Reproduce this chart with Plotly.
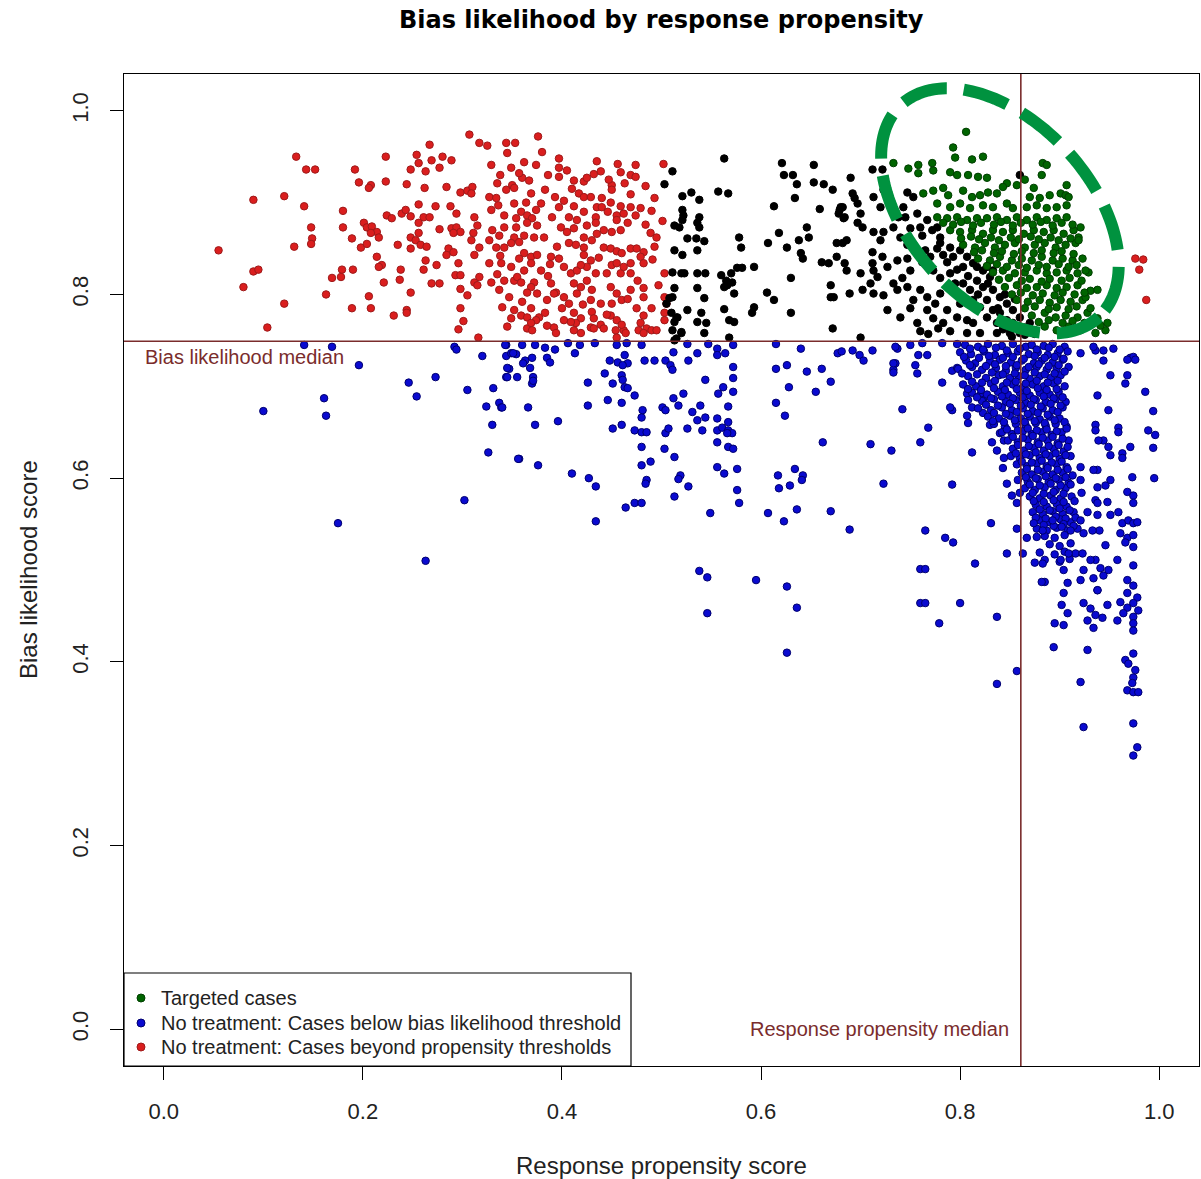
import math
import plotly.graph_objects as go

# ---------------- data ----------------
chart_title = "Bias likelihood by response propensity"
x_title = "Response propensity score"
y_title = "Bias likelihood score"
tick_values = [0.0, 0.2, 0.4, 0.6, 0.8, 1.0]
tick_labels = ["0.0", "0.2", "0.4", "0.6", "0.8", "1.0"]
propensity_median = 0.861
bias_median = 0.749
legend_names = ["Targeted cases",
                "No treatment: Cases below bias likelihood threshold",
                "No treatment: Cases beyond propensity thresholds"]

red_points = [
    (.307, .974), (.317, .965), (.267, .963), (.133, .950), (.223, .950), (.254, .952), (.280, .950), (.289, .946),
    (.269, .946), (.256, .943), (.143, .936), (.152, .936), (.192, .936), (.248, .936), (.263, .934), (.277, .938),
    (.196, .922), (.208, .919), (.206, .916), (.223, .923), (.244, .920), (.262, .916), (.284, .917), (.298, .911),
    (.305, .913), (.310, .917), (.309, .910), (.090, .903), (.121, .907), (.141, .896), (.180, .891), (.256, .898),
    (.273, .896), (.288, .896), (.294, .888), (.312, .884), (.315, .875), (.224, .886), (.229, .883), (.239, .888),
    (.243, .892), (.248, .885), (.261, .884), (.267, .884), (.201, .878), (.204, .873), (.209, .874), (.214, .868),
    (.208, .867), (.180, .873), (.148, .873), (.256, .878), (.277, .871), (.289, .872), (.294, .873), (.298, .868),
    (.291, .867), (.311, .867), (.149, .861), (.148, .855), (.189, .861), (.216, .862), (.248, .862), (.253, .859),
    (.256, .867), (.258, .854), (.264, .852), (.131, .852), (.198, .851), (.204, .855), (.235, .854), (.248, .850),
    (.286, .850), (.291, .846), (.317, .851), (.309, .859), (.055, .848), (.214, .841), (.219, .832), (.216, .830),
    (.263, .837), (.274, .832), (.284, .843), (.296, .834), (.312, .843), (.090, .825), (.095, .827), (.169, .818),
    (.178, .819), (.179, .827), (.190, .827), (.238, .827), (.261, .827), (.237, .816), (.221, .813), (.269, .812),
    (.277, .812), (.293, .821), (.298, .821), (.312, .813), (.315, .810), (.317, .819), (.080, .808), (.163, .800),
    (.206, .798), (.248, .802), (.298, .806), (.305, .799), (.121, .790), (.189, .785), (.208, .785), (.231, .777),
    (.244, .783), (.244, .780), (.298, .785), (.301, .771), (.296, .762), (.104, .764), (.316, .753),
    (.376, .972), (.325, .962), (.344, .965), (.353, .965), (.345, .954), (.380, .955), (.397, .948), (.362, .944),
    (.374, .941), (.329, .941), (.349, .938), (.435, .945), (.456, .942), (.474, .941), (.459, .933), (.469, .930),
    (.474, .928), (.502, .942), (.397, .938), (.397, .928), (.439, .934), (.432, .931), (.360, .927), (.367, .924),
    (.412, .924), (.422, .923), (.425, .927), (.335, .921), (.350, .919), (.352, .916), (.450, .919), (.450, .914),
    (.383, .914), (.369, .910), (.410, .915), (.417, .910), (.422, .906), (.429, .906), (.469, .909), (.327, .906),
    (.334, .905), (.344, .914), (.393, .906), (.440, .905), (.449, .900), (.364, .900), (.379, .899), (.397, .895),
    (.412, .896), (.459, .896), (.469, .895), (.479, .894), (.422, .890), (.435, .895), (.440, .895), (.490, .891),
    (.359, .890), (.365, .886), (.370, .883), (.354, .883), (.342, .886), (.329, .892), (.390, .884), (.407, .884),
    (.415, .881), (.434, .884), (.434, .878), (.425, .875), (.455, .886), (.462, .888), (.455, .881), (.474, .886),
    (.501, .880), (.342, .873), (.354, .873), (.365, .878), (.375, .875), (.330, .870), (.399, .873), (.405, .868),
    (.412, .872), (.442, .870), (.450, .868), (.459, .870), (.489, .867), (.495, .862), (.352, .862), (.362, .864),
    (.372, .862), (.382, .862), (.327, .859), (.334, .851), (.342, .851), (.349, .856), (.422, .862), (.430, .859),
    (.407, .856), (.414, .854), (.422, .851), (.442, .851), (.449, .850), (.455, .847), (.460, .845), (.469, .850),
    (.475, .850), (.482, .846), (.479, .841), (.362, .845), (.369, .841), (.375, .843), (.357, .839), (.389, .841),
    (.397, .839), (.422, .843), (.429, .837), (.425, .830), (.339, .834), (.349, .830), (.327, .834), (.450, .832),
    (.455, .834), (.469, .834), (.482, .834), (.369, .834), (.379, .826), (.362, .826), (.402, .830), (.409, .823),
    (.415, .826), (.419, .832), (.434, .823), (.445, .823), (.469, .823), (.459, .823), (.503, .823), (.342, .815),
    (.352, .815), (.355, .819), (.359, .813), (.372, .813), (.369, .808), (.365, .802), (.375, .801), (.329, .813),
    (.389, .812), (.394, .802), (.412, .812), (.419, .808), (.415, .801), (.430, .805), (.449, .808), (.455, .801),
    (.460, .794), (.450, .790), (.469, .805), (.482, .807), (.337, .805), (.392, .801), (.385, .794), (.402, .797),
    (.407, .790), (.429, .794), (.439, .790), (.482, .797), (.503, .797), (.505, .790), (.340, .786), (.352, .783),
    (.359, .777), (.369, .785), (.377, .775), (.374, .772), (.400, .785), (.412, .780), (.419, .774), (.414, .769),
    (.430, .781), (.432, .774), (.439, .767), (.429, .764), (.449, .777), (.455, .772), (.454, .761), (.462, .761),
    (.475, .785), (.482, .777), (.479, .769), (.477, .761), (.485, .763), (.490, .761), (.495, .761), (.482, .758),
    (.503, .780), (.503, .772), (.349, .774), (.365, .775), (.365, .763), (.369, .769), (.370, .761), (.392, .764),
    (.394, .758), (.402, .772), (.409, .770), (.412, .761), (.419, .758), (.432, .763), (.442, .763), (.455, .753),
    (.464, .758),
    (.338, .930), (.357, .932), (.386, .930), (.405, .935), (.447, .925), (.463, .921), (.484, .918), (.493, .905),
    (.336, .897), (.352, .899), (.374, .892), (.402, .902), (.446, .890), (.466, .878), (.484, .876), (.337, .864),
    (.357, .857), (.395, .852), (.435, .866), (.493, .852), (.338, .842), (.388, .833), (.437, .840), (.462, .830),
    (.491, .838), (.335, .822), (.386, .820), (.425, .815), (.476, .815), (.497, .810), (.347, .797), (.360, .792),
    (.421, .789), (.466, .795), (.490, .785), (.345, .765), (.383, .780), (.445, .778), (.460, .767), (.385, .766),
    (.976, .839), (.984, .838), (.980, .827), (.987, .794),
]

black_points = [
    (.511, .934), (.563, .948), (.503, .920), (.521, .907), (.530, .911), (.538, .903), (.557, .912), (.567, .910),
    (.621, .943), (.653, .941), (.623, .930), (.632, .930), (.636, .920), (.634, .905), (.653, .922), (.663, .920),
    (.672, .914), (.613, .896), (.659, .893), (.521, .892), (.522, .886), (.521, .881), (.538, .884), (.536, .878),
    (.538, .873), (.513, .875), (.518, .873), (.680, .895), (.678, .888), (.683, .883), (.526, .861), (.535, .861),
    (.543, .858), (.578, .862), (.580, .851), (.618, .867), (.607, .856), (.626, .851), (.638, .859), (.646, .873),
    (.648, .862), (.640, .845), (.642, .839), (.676, .856), (.513, .848), (.521, .843), (.536, .848), (.661, .835),
    (.668, .834), (.676, .841), (.511, .824), (.520, .823), (.523, .823), (.536, .823), (.544, .823), (.560, .821),
    (.565, .815), (.570, .823), (.576, .829), (.581, .829), (.563, .808), (.566, .810), (.571, .813), (.593, .830),
    (.630, .818), (.670, .810), (.513, .807), (.511, .797), (.508, .796), (.536, .807), (.543, .796), (.573, .801),
    (.606, .802), (.613, .794), (.670, .797), (.673, .797), (.593, .786), (.591, .780), (.630, .780), (.526, .783),
    (.516, .775), (.513, .770), (.540, .780), (.536, .770), (.545, .769), (.563, .784), (.568, .772), (.573, .770),
    (.520, .759), (.515, .752), (.543, .758), (.568, .753), (.672, .763),
    (.505, .790), (.510, .780), (.515, .775), (.511, .761), (.520, .758), (.513, .750),
    (.712, .936), (.722, .936), (.690, .927), (.692, .910), (.694, .905), (.697, .899), (.713, .906), (.723, .914),
    (.727, .905), (.720, .895), (.682, .895), (.684, .884), (.679, .892), (.700, .888), (.702, .873), (.697, .878),
    (.733, .892), (.743, .895), (.738, .884), (.745, .884), (.747, .911), (.753, .906), (.713, .868), (.723, .868),
    (.720, .859), (.682, .856), (.686, .859), (.757, .888), (.760, .873), (.750, .872), (.762, .864), (.733, .873),
    (.740, .862), (.747, .854), (.767, .881), (.772, .870), (.777, .873), (.780, .862), (.712, .846), (.712, .834),
    (.722, .841), (.727, .830), (.684, .834), (.686, .826), (.700, .823), (.713, .826), (.717, .819), (.710, .812),
    (.737, .837), (.747, .839), (.750, .826), (.742, .818), (.757, .848), (.765, .848), (.762, .835), (.770, .841),
    (.780, .856), (.790, .851), (.783, .843), (.793, .841), (.800, .848), (.807, .841), (.803, .830), (.813, .834),
    (.773, .826), (.780, .818), (.790, .823), (.795, .812), (.689, .801), (.702, .805), (.713, .801), (.723, .799),
    (.733, .812), (.737, .805), (.747, .808), (.753, .794), (.760, .805), (.767, .797), (.775, .790), (.780, .801),
    (.727, .783), (.740, .775), (.750, .785), (.757, .769), (.767, .783), (.773, .774), (.783, .769), (.787, .783),
    (.803, .812), (.810, .805), (.817, .815), (.823, .808), (.813, .794), (.820, .786), (.827, .794), (.833, .783),
    (.800, .790), (.797, .775), (.807, .772), (.813, .769), (.827, .775), (.837, .769), (.840, .780), (.847, .772),
    (.823, .826), (.830, .819), (.833, .805), (.840, .797), (.847, .790), (.853, .783), (.853, .769), (.860, .775),
    (.865, .764), (.870, .769), (.700, .753), (.807, .758), (.820, .758), (.837, .758), (.850, .758), (.860, .758),
    (.827, .830), (.833, .826), (.817, .830), (.860, .930),
    (.777, .850), (.787, .835), (.797, .827), (.808, .820), (.818, .800), (.828, .812), (.838, .785), (.845, .800),
    (.855, .795), (.843, .762), (.852, .754), (.865, .756), (.875, .757), (.790, .760), (.778, .763), (.768, .757),
    (.760, .760),
]

green_points = [
    (.806, .977), (.793, .960), (.795, .949), (.812, .947), (.823, .950), (.733, .943), (.748, .937), (.758, .941),
    (.758, .932), (.772, .943), (.773, .935), (.790, .933), (.797, .930), (.808, .930), (.818, .928), (.827, .927),
    (.883, .943), (.887, .941), (.882, .930), (.857, .919), (.847, .921), (.907, .919), (.763, .910), (.773, .913),
    (.783, .916), (.788, .908), (.803, .913), (.812, .906), (.820, .908), (.828, .911), (.837, .910), (.843, .917),
    (.870, .906), (.880, .905), (.890, .908), (.901, .910), (.906, .908), (.909, .906), (.777, .899), (.790, .895),
    (.800, .899), (.810, .894), (.823, .897), (.833, .895), (.847, .899), (.853, .894), (.867, .895), (.877, .897),
    (.887, .894), (.897, .895), (.907, .897), (.777, .884), (.787, .883), (.797, .884), (.807, .881), (.817, .883),
    (.827, .883), (.837, .884), (.847, .881), (.857, .884), (.867, .881), (.877, .884), (.887, .881), (.897, .883),
    (.907, .884), (.865, .925), (.874, .916),
    (.790, .870), (.800, .868), (.812, .870), (.823, .866), (.833, .870), (.843, .868), (.853, .870), (.864, .866),
    (.874, .870), (.884, .868), (.894, .870), (.904, .866), (.914, .870),
    (.803, .854), (.815, .851), (.825, .856), (.835, .851), (.845, .854), (.855, .856), (.865, .851), (.875, .854),
    (.885, .856), (.896, .851), (.906, .854), (.916, .856), (.921, .873), (.919, .862),
    (.818, .839), (.830, .837), (.840, .841), (.852, .837), (.862, .839), (.872, .837), (.882, .841), (.893, .837),
    (.903, .839), (.913, .837), (.923, .839),
    (.833, .824), (.843, .826), (.855, .823), (.865, .824), (.877, .826), (.887, .823), (.897, .824), (.907, .826),
    (.918, .823), (.929, .824),
    (.845, .808), (.857, .810), (.867, .807), (.877, .808), (.887, .810), (.897, .807), (.907, .808), (.918, .810),
    (.931, .804),
    (.857, .794), (.868, .792), (.880, .794), (.890, .791), (.901, .794), (.911, .792), (.923, .794),
    (.926, .826), (.938, .805), (.926, .797),
    (.872, .777), (.885, .780), (.896, .775), (.906, .777), (.918, .775), (.928, .780),
    (.885, .765), (.897, .761), (.909, .765), (.921, .761), (.936, .758), (.946, .761),
    (.929, .769), (.938, .774), (.948, .769),
    (.783, .878), (.793, .876), (.801, .879), (.813, .875), (.821, .878), (.834, .876), (.841, .879), (.853, .875),
    (.861, .878), (.873, .876), (.881, .879), (.893, .875), (.902, .878), (.913, .876),
    (.801, .861), (.811, .863), (.819, .860), (.831, .862), (.839, .859), (.851, .862), (.859, .860), (.871, .863),
    (.879, .860), (.891, .862), (.899, .859), (.911, .861), (.919, .859),
    (.814, .846), (.822, .848), (.834, .845), (.842, .847), (.854, .844), (.862, .847), (.874, .845), (.882, .848),
    (.894, .845), (.902, .847), (.914, .844),
    (.827, .831), (.837, .833), (.847, .830), (.859, .832), (.867, .829), (.879, .832), (.887, .830), (.899, .833),
    (.909, .830), (.917, .832),
    (.839, .816), (.849, .818), (.862, .815), (.870, .817), (.882, .814), (.890, .817), (.902, .815), (.910, .818),
    (.922, .815),
    (.852, .800), (.861, .802), (.873, .799), (.883, .801), (.895, .799), (.903, .802), (.915, .800), (.925, .802),
    (.865, .785), (.875, .787), (.889, .784), (.897, .786), (.909, .784), (.917, .787), (.931, .785),
    (.879, .770), (.889, .772), (.903, .769), (.913, .771), (.925, .769), (.941, .766),
]

blue_points = [
    (.141, .745), (.169, .743), (.196, .723), (.100, .673), (.161, .687), (.163, .668), (.246, .704), (.254, .689),
    (.273, .710), (.292, .743), (.294, .740), (.320, .733), (.305, .696), (.331, .698), (.324, .678), (.337, .682),
    (.339, .677), (.344, .745), (.344, .733), (.349, .736), (.354, .735), (.347, .719), (.344, .710), (.355, .710),
    (.330, .658), (.326, .628), (.357, .621), (.302, .576), (.175, .551), (.263, .510),
    (.343, .745), (.360, .745), (.373, .745), (.383, .742), (.393, .740), (.406, .747), (.418, .745), (.433, .747),
    (.455, .745), (.465, .747), (.480, .745), (.351, .736), (.363, .728), (.370, .731), (.361, .725), (.368, .720),
    (.371, .710), (.370, .703), (.371, .706), (.385, .731), (.388, .726), (.345, .720), (.345, .710),
    (.413, .736), (.448, .728), (.456, .726), (.463, .734), (.466, .725), (.461, .723),
    (.483, .728), (.493, .728), (.504, .728), (.512, .737), (.509, .723), (.511, .718),
    (.527, .728), (.536, .736), (.526, .746), (.547, .746), (.556, .741), (.556, .734), (.564, .736), (.572, .745),
    (.572, .721), (.572, .709), (.572, .694), (.544, .707), (.562, .699), (.557, .692),
    (.443, .714), (.451, .703), (.460, .712), (.461, .707), (.463, .699), (.466, .698), (.426, .704),
    (.473, .690), (.446, .685), (.460, .682), (.426, .679), (.366, .677), (.340, .677),
    (.481, .674), (.480, .666), (.501, .677), (.504, .674), (.512, .687), (.517, .679), (.522, .692),
    (.531, .672), (.539, .679), (.536, .663), (.544, .666), (.541, .652), (.526, .654),
    (.556, .665), (.556, .652), (.561, .655), (.567, .661), (.567, .652), (.571, .649), (.566, .649), (.567, .678),
    (.373, .658), (.396, .662), (.451, .654), (.460, .658), (.473, .652), (.480, .650), (.485, .650), (.504, .649),
    (.507, .654), (.480, .634), (.503, .632), (.513, .623), (.556, .639), (.567, .634), (.572, .632),
    (.356, .621), (.376, .614), (.410, .605), (.427, .600), (.434, .591),
    (.480, .614), (.489, .618), (.485, .598), (.484, .594), (.519, .603), (.517, .599), (.527, .591),
    (.513, .580), (.464, .568), (.473, .573), (.480, .573), (.434, .553),
    (.556, .612), (.563, .605), (.576, .610), (.576, .587), (.578, .573), (.549, .562),
    (.538, .499), (.546, .492), (.546, .453), (.595, .489), (.626, .482), (.636, .459), (.626, .410),
    (.615, .746), (.640, .741), (.677, .736), (.681, .738), (.692, .739), (.699, .734), (.703, .728), (.712, .739),
    (.737, .741), (.615, .719), (.626, .723), (.646, .716), (.661, .719), (.670, .705), (.655, .694), (.628, .699),
    (.733, .718), (.735, .725), (.615, .682), (.624, .668), (.662, .639), (.710, .637), (.731, .630),
    (.617, .603), (.618, .589), (.629, .592), (.634, .610), (.642, .603), (.641, .598), (.723, .594),
    (.607, .562), (.623, .553), (.636, .566), (.670, .564), (.689, .544),
    (.735, .743), (.750, .745), (.762, .747), (.782, .747), (.797, .746),
    (.758, .734), (.767, .734), (.733, .725), (.733, .715), (.755, .723), (.757, .714),
    (.782, .704), (.792, .717), (.797, .720), (.742, .675), (.768, .655), (.760, .639),
    (.792, .674), (.790, .677), (.807, .692), (.808, .685), (.812, .677),
    (.807, .668), (.808, .660), (.820, .690), (.823, .685), (.823, .671), (.830, .658),
    (.812, .628), (.792, .593), (.832, .639), (.840, .649), (.844, .641), (.837, .630), (.844, .622), (.843, .611),
    (.847, .594), (.852, .581), (.857, .573), (.860, .584),
    (.765, .543), (.785, .535), (.793, .530), (.831, .551), (.857, .545), (.847, .518), (.863, .518), (.815, .507),
    (.760, .501), (.765, .501), (.760, .464), (.765, .464), (.800, .464), (.779, .442), (.837, .449),
    (.857, .390), (.837, .376),
    (.805, .745), (.818, .743), (.828, .746), (.842, .744), (.853, .746), (.866, .743), (.872, .745), (.884, .744),
    (.893, .746), (.905, .743),
    (.800, .737), (.811, .735), (.824, .738), (.835, .734), (.848, .736), (.858, .738), (.869, .735), (.878, .737),
    (.888, .734), (.898, .736), (.908, .738),
    (.806, .728), (.815, .725), (.830, .727), (.840, .729), (.851, .726), (.862, .728), (.874, .725), (.882, .728),
    (.893, .726), (.903, .729),
    (.798, .719), (.812, .721), (.822, .718), (.836, .720), (.846, .717), (.856, .720), (.866, .718), (.877, .721),
    (.887, .718), (.897, .719), (.909, .721),
    (.808, .711), (.826, .709), (.839, .712), (.850, .709), (.859, .711), (.870, .708), (.880, .711), (.891, .709),
    (.901, .712),
    (.803, .702), (.816, .700), (.831, .703), (.843, .700), (.853, .702), (.863, .699), (.873, .702), (.884, .700),
    (.894, .703), (.905, .700),
    (.812, .693), (.827, .691), (.838, .694), (.848, .691), (.860, .693), (.870, .690), (.880, .693), (.890, .691),
    (.899, .694),
    (.822, .684), (.834, .686), (.846, .683), (.856, .685), (.866, .682), (.876, .685), (.886, .683), (.896, .686),
    (.906, .683),
    (.818, .676), (.831, .674), (.842, .677), (.852, .674), (.863, .676), (.873, .673), (.883, .676), (.893, .674),
    (.903, .677),
    (.828, .667), (.839, .665), (.850, .668), (.861, .665), (.870, .667), (.880, .664), (.890, .667), (.900, .665),
    (.834, .659), (.845, .656), (.856, .659), (.866, .657), (.876, .660), (.886, .657), (.896, .659), (.907, .656),
    (.842, .650), (.852, .648), (.863, .651), (.872, .648), (.882, .650), (.892, .647), (.902, .650),
    (.848, .641), (.858, .639), (.868, .642), (.878, .639), (.888, .641), (.898, .638), (.909, .641),
    (.853, .632), (.864, .630), (.874, .633), (.884, .630), (.894, .632), (.904, .629),
    (.851, .624), (.860, .622), (.870, .625), (.880, .622), (.890, .624), (.900, .621), (.911, .624),
    (.857, .615), (.867, .613), (.877, .616), (.887, .613), (.897, .615), (.907, .612),
    (.862, .606), (.872, .604), (.883, .607), (.893, .604), (.903, .606), (.913, .603),
    (.858, .598), (.868, .596), (.878, .599), (.889, .596), (.899, .598), (.909, .595),
    (.865, .589), (.875, .587), (.885, .590), (.896, .587), (.906, .589),
    (.870, .580), (.880, .578), (.891, .581), (.901, .578), (.912, .580),
    (.876, .571), (.887, .569), (.897, .572), (.907, .569),
    (.873, .563), (.883, .561), (.893, .564), (.903, .561), (.914, .563),
    (.880, .554), (.890, .552), (.901, .555), (.911, .552),
    (.877, .545), (.887, .543), (.897, .546), (.908, .543), (.918, .545),
    (.885, .537), (.895, .535), (.905, .538), (.890, .528), (.900, .526), (.911, .529),
    (.880, .519), (.895, .517), (.905, .520), (.916, .518), (.885, .511), (.900, .509), (.910, .512),
    (.810, .741), (.823, .740), (.836, .742), (.847, .739), (.860, .741), (.877, .740), (.889, .742), (.900, .740),
    (.804, .732), (.819, .731), (.829, .733), (.843, .731), (.853, .732), (.864, .730), (.875, .733), (.885, .731),
    (.895, .732), (.904, .730),
    (.810, .723), (.826, .722), (.835, .724), (.846, .722), (.857, .723), (.869, .721), (.879, .724), (.889, .722),
    (.899, .723),
    (.802, .714), (.817, .713), (.832, .715), (.843, .713), (.855, .714), (.865, .712), (.875, .715), (.885, .713),
    (.895, .714), (.905, .716),
    (.812, .705), (.822, .704), (.835, .706), (.847, .704), (.856, .705), (.866, .703), (.877, .706), (.888, .704),
    (.898, .706),
    (.808, .697), (.821, .696), (.834, .698), (.845, .696), (.857, .697), (.867, .695), (.878, .698), (.887, .696),
    (.897, .697),
    (.817, .688), (.831, .687), (.842, .689), (.853, .687), (.863, .688), (.874, .686), (.884, .689), (.894, .687),
    (.903, .688),
    (.826, .680), (.838, .679), (.850, .681), (.861, .679), (.871, .680), (.881, .678), (.891, .681), (.901, .679),
    (.834, .671), (.846, .670), (.857, .672), (.868, .670), (.878, .671), (.888, .669), (.898, .672),
    (.833, .662), (.844, .661), (.855, .663), (.865, .661), (.875, .662), (.885, .660), (.895, .663), (.905, .661),
    (.847, .653), (.858, .652), (.868, .654), (.877, .652), (.887, .653), (.897, .651), (.907, .654),
    (.853, .645), (.863, .644), (.873, .646), (.883, .644), (.893, .645), (.903, .643),
    (.858, .636), (.869, .635), (.879, .637), (.889, .635), (.899, .636), (.908, .634),
    (.856, .627), (.866, .626), (.876, .628), (.886, .626), (.896, .627), (.906, .625),
    (.862, .618), (.872, .617), (.882, .619), (.892, .617), (.902, .618),
    (.867, .610), (.878, .609), (.888, .611), (.898, .609), (.908, .610),
    (.866, .601), (.876, .600), (.886, .602), (.896, .600), (.906, .601),
    (.870, .593), (.880, .592), (.891, .594), (.901, .592), (.911, .593),
    (.873, .584), (.884, .583), (.894, .585), (.904, .583),
    (.874, .575), (.884, .574), (.894, .576), (.904, .574), (.915, .575),
    (.880, .566), (.890, .565), (.900, .567), (.910, .565),
    (.876, .557), (.886, .556), (.896, .558), (.906, .556), (.916, .557),
    (.884, .549), (.894, .548), (.904, .550), (.914, .548),
    (.936, .739), (.944, .728), (.951, .712), (.938, .690), (.949, .674), (.936, .658), (.944, .641), (.951, .625),
    (.938, .609), (.946, .592), (.936, .576), (.951, .560), (.940, .543), (.946, .527), (.936, .511), (.944, .494),
    (.938, .478), (.948, .462),
    (.921, .736), (.934, .743), (.944, .739), (.954, .741), (.971, .731), (.974, .732),
    (.968, .729), (.976, .729), (.968, .712), (.966, .703), (.959, .655), (.959, .650), (.971, .634), (.963, .627),
    (.963, .622), (.973, .601), (.968, .585), (.974, .581), (.974, .573), (.959, .563), (.963, .551), (.969, .554),
    (.974, .551), (.978, .552), (.961, .540), (.968, .535), (.974, .538), (.966, .530), (.974, .525), (.958, .511),
    (.974, .505), (.968, .489), (.974, .483), (.968, .475), (.978, .470), (.961, .465), (.968, .459), (.974, .464),
    (.979, .456), (.964, .453), (.974, .449), (.958, .445), (.974, .442), (.974, .434), (.974, .409), (.966, .402),
    (.969, .398), (.976, .391), (.974, .383), (.973, .377), (.968, .369), (.974, .367), (.979, .367), (.974, .333),
    (.978, .307), (.974, .298),
    (.986, .694), (.994, .673), (.989, .652), (.996, .647), (.994, .633), (.995, .600),
    (.924, .329), (.921, .378), (.894, .416), (.928, .413), (.895, .442), (.904, .440),
    (.936, .652), (.939, .641), (.949, .634), (.921, .612), (.934, .609), (.938, .590), (.951, .598), (.921, .598),
    (.922, .584), (.938, .573), (.948, .574), (.938, .560), (.928, .563), (.921, .554), (.933, .543), (.924, .540),
    (.911, .543), (.902, .547), (.893, .554), (.883, .543), (.877, .536), (.867, .535), (.874, .551), (.923, .518),
    (.931, .511), (.924, .500), (.934, .491), (.921, .489), (.941, .502), (.949, .500), (.938, .478), (.904, .500),
    (.908, .486), (.904, .475), (.902, .462), (.908, .453), (.924, .464), (.931, .458), (.928, .445), (.936, .451),
    (.943, .448), (.934, .437), (.875, .508), (.883, .507), (.885, .487), (.882, .487), (.901, .511), (.909, .518),
]

# highlight ellipse drawn over the targeted region (centre in data units, radii in pixels)
ellipse_center = (0.840, 0.891)
ellipse_radii_px = (145, 90)
ellipse_angle_deg = 47

# ---------------- figure ----------------
FONT = "Liberation Sans, Arial, sans-serif"
TITLE_FONT = "DejaVu Sans, sans-serif"
W, H = 1201, 1179
M_L, M_R, M_T, M_B = 124, 2, 74, 113
X_RANGE = [-0.04, 1.04]
Y_RANGE = [-0.04, 1.04]

COL_GREEN, EDGE_GREEN = "#006400", "#003F00"
COL_BLUE, EDGE_BLUE = "#0A0AD0", "#00006E"
COL_RED, EDGE_RED = "#DA1E1E", "#9E1A1A"

fig = go.Figure()


def add_points(points, fill, edge, name):
    xs = [p[0] for p in points]
    ys = [p[1] for p in points]
    fig.add_trace(go.Scatter(
        x=xs, y=ys, mode="markers", name=name, showlegend=False,
        marker=dict(size=7.5, color=fill, line=dict(color=edge, width=1)),
        hoverinfo="x+y",
    ))


add_points(red_points, COL_RED, EDGE_RED, legend_names[2])
add_points(black_points, "#000000", "#000000", "other")
add_points(blue_points, COL_BLUE, EDGE_BLUE, legend_names[1])
add_points(green_points, COL_GREEN, EDGE_GREEN, legend_names[0])

line_col = "#7A2C2C"
shapes = [
    dict(type="line", xref="x", yref="paper", x0=propensity_median, x1=propensity_median, y0=0, y1=1,
         line=dict(color=line_col, width=1.6)),
    dict(type="line", xref="paper", yref="y", x0=0, x1=1, y0=bias_median, y1=bias_median,
         line=dict(color=line_col, width=1.6)),
]

# ellipse path (pixel radii converted to data units with the axis scales)
plot_w = W - M_L - M_R
plot_h = H - M_T - M_B
sx = plot_w / (X_RANGE[1] - X_RANGE[0])
sy = plot_h / (Y_RANGE[1] - Y_RANGE[0])
th = math.radians(ellipse_angle_deg)
a, b = ellipse_radii_px
pts = []
n = 160
for i in range(n):
    t = 2 * math.pi * i / n
    dx = a * math.cos(t) * math.cos(th) - b * math.sin(t) * math.sin(th)
    dy = a * math.cos(t) * math.sin(th) + b * math.sin(t) * math.cos(th)
    pts.append((ellipse_center[0] + dx / sx, ellipse_center[1] - dy / sy))
path = "M " + " L ".join(f"{px:.5f},{py:.5f}" for px, py in pts) + " Z"
shapes.append(dict(type="path", xref="x", yref="y", path=path,
                   line=dict(color="#00923F", width=12, dash="46px,17px")))

# ---- legend box (bottom-left, drawn by hand to match the R legend layout) ----
LEG_W_PX, LEG_H_PX = 507, 93
shapes.append(dict(type="rect", xref="paper", yref="paper", x0=0, y0=0,
                   x1=LEG_W_PX / plot_w, y1=LEG_H_PX / plot_h,
                   line=dict(color="#000", width=1.2), fillcolor="white", layer="above"))
legend_rows = [(legend_names[0], COL_GREEN, EDGE_GREEN, 68),
               (legend_names[1], COL_BLUE, EDGE_BLUE, 43),
               (legend_names[2], COL_RED, EDGE_RED, 19)]
annotations = []
for text, col, edge, up in legend_rows:
    shapes.append(dict(type="circle", xref="paper", yref="paper", xsizemode="pixel", ysizemode="pixel",
                       xanchor=0, yanchor=0, x0=13, x1=21, y0=up - 4, y1=up + 4,
                       fillcolor=col, line=dict(color=edge, width=1), layer="above"))
    annotations.append(dict(text=text, xref="paper", yref="paper", x=0, y=0, xshift=35, yshift=up,
                            xanchor="left", yanchor="middle", showarrow=False,
                            font=dict(family=FONT, size=20, color="#222")))

annotations += [
    dict(text="<b>" + chart_title + "</b>", xref="paper", yref="paper", x=0.5, y=1, yshift=54,
         xanchor="center", yanchor="middle", showarrow=False, font=dict(family=TITLE_FONT, size=24, color="#000")),
    dict(text=x_title, xref="paper", yref="paper", x=0.5, y=0, yshift=-99,
         xanchor="center", yanchor="middle", showarrow=False, font=dict(family=FONT, size=24, color="#222")),
    dict(text=y_title, xref="paper", yref="paper", x=0, y=0.5, xshift=-96, textangle=-90,
         xanchor="center", yanchor="middle", showarrow=False, font=dict(family=FONT, size=24, color="#222")),
    dict(text="Bias likelihood median", xref="x", yref="y", x=-0.021, y=bias_median, yshift=-16,
         xanchor="left", yanchor="middle", showarrow=False, font=dict(family=FONT, size=20, color="#7A2C2C")),
    dict(text="Response propensity median", xref="x", yref="y", x=propensity_median, y=0.0, xshift=-10,
         xanchor="right", yanchor="middle", showarrow=False, font=dict(family=FONT, size=20, color="#7A2C2C")),
]

axis_common = dict(
    showgrid=False, zeroline=False, showline=True, mirror=True, linecolor="#000", linewidth=1.3,
    ticks="outside", ticklen=13, tickwidth=1.3, tickcolor="#000",
    tickvals=tick_values, ticktext=tick_labels,
    tickfont=dict(family=FONT, size=22, color="#222"),
)

fig.update_layout(
    width=W, height=H, margin=dict(l=M_L, r=M_R, t=M_T, b=M_B),
    paper_bgcolor="white", plot_bgcolor="white",
    xaxis=dict(range=X_RANGE, ticklabelstandoff=12, **axis_common),
    yaxis=dict(range=Y_RANGE, tickangle=-90, ticklabelstandoff=13, **axis_common),
    shapes=shapes, annotations=annotations,
    showlegend=False,
)

fig.write_html("out.html", config={"displayModeBar": False},
               post_script="document.body.style.margin='0px';document.body.style.overflow='hidden';")
